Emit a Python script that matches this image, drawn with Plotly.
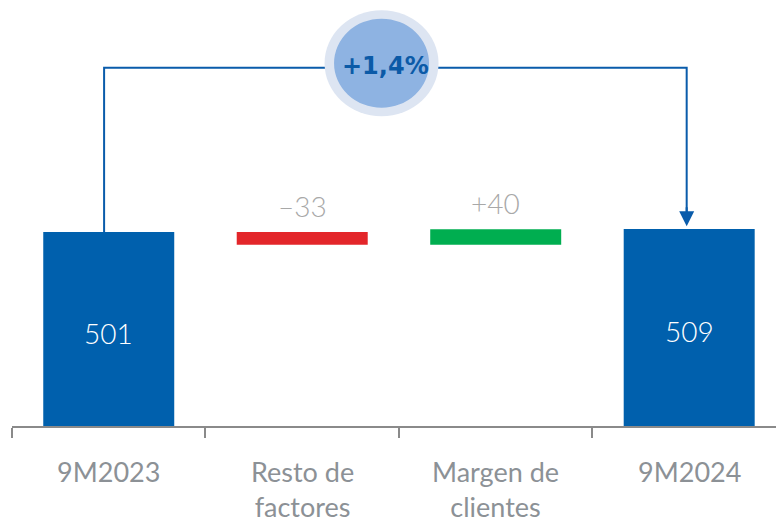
import plotly.graph_objects as go

categories = ["9M2023", "Resto de<br>factores", "Margen de<br>clientes", "9M2024"]
measures = ["absolute", "relative", "relative", "absolute"]
values = [501, -33, 40, 509]
value_labels = ["501", "–33", "+40", "509"]
change_label = "+1,4%"

BLUE = "#0060AD"
RED = "#E3262A"
GREEN = "#00AE50"
GRAY_TXT = "#8C9196"
GRAY_VAL = "#A8A8A8"

# compute bases / heights
bases, heights, colors = [], [], []
running = 0
for m, v in zip(measures, values):
    if m == "absolute":
        bases.append(0)
        heights.append(v)
        colors.append(BLUE)
        running = v
    else:
        if v < 0:
            bases.append(running + v)
            heights.append(-v)
            colors.append(RED)
        else:
            bases.append(running)
            heights.append(v)
            colors.append(GREEN)
        running += v

xs = list(range(len(categories)))

fig = go.Figure()
fig.add_trace(go.Bar(
    x=xs, y=heights, base=bases, width=0.677,
    marker=dict(color=colors, line=dict(width=0)),
    hoverinfo="skip", showlegend=False,
))

LIGHT = dict(family="Lato, 'Open Sans', sans-serif", size=28, weight=300)

annotations = []
for i, (m, b, h, lab) in enumerate(zip(measures, bases, heights, value_labels)):
    if m == "absolute":
        annotations.append(dict(x=i, y=b + h / 2, xref="x", yref="y", text=lab,
                                showarrow=False, yshift=-4,
                                font=dict(LIGHT, color="white")))
    else:
        annotations.append(dict(x=i, y=b + h, xref="x", yref="y", text=lab,
                                showarrow=False, yanchor="bottom", yshift=7,
                                font=dict(LIGHT, color=GRAY_VAL)))

for i, c in enumerate(categories):
    annotations.append(dict(x=i, y=0, xref="x", yref="paper", text=c,
                            showarrow=False, yanchor="top", yshift=-27,
                            font=dict(family="Lato, 'Open Sans', sans-serif",
                                      size=27, color=GRAY_TXT)))

top_y = 925
first, last = values[0], values[-1]
# connector path
shapes = [
    dict(type="path", xref="x", yref="y",
         path=f"M -0.024,{first} L -0.024,{top_y} L 2.987,{top_y} L 2.987,{last + 30}",
         line=dict(color="#0A5CAB", width=2)),
]
# arrow head
annotations.append(dict(x=2.987, y=last + 7, ax=2.987, ay=last + 60,
                        xref="x", yref="y", axref="x", ayref="y",
                        text="", showarrow=True, arrowhead=2, arrowsize=1.5,
                        arrowwidth=2, arrowcolor="#0A5CAB"))

cx, cy = 1.41, 937
shapes.append(dict(type="circle", xref="x", yref="y", xsizemode="pixel",
                   ysizemode="pixel", xanchor=cx, yanchor=cy,
                   x0=-57, x1=57, y0=-53, y1=53,
                   fillcolor="#DDE5F2", line=dict(width=0)))
shapes.append(dict(type="circle", xref="x", yref="y", xsizemode="pixel",
                   ysizemode="pixel", xanchor=cx, yanchor=cy,
                   x0=-47.5, x1=47.5, y0=-44.5, y1=44.5,
                   fillcolor="#8EB3E2", line=dict(width=0)))
annotations.append(dict(x=cx, y=cy, xref="x", yref="y", text=f"<b>{change_label}</b>",
                        showarrow=False, xshift=4, yshift=-3,
                        font=dict(family="'DejaVu Sans', sans-serif", size=24,
                                  color="#0B5AA7")))

fig.update_layout(
    width=776, height=521,
    margin=dict(l=4, r=0, t=0, b=103),
    paper_bgcolor="white", plot_bgcolor="white",
    shapes=shapes, annotations=annotations,
    xaxis=dict(type="linear", range=[-0.5, 3.49], showgrid=False, zeroline=False,
               showline=True, linecolor="#8A8A8A", linewidth=1.5,
               tickmode="array", tickvals=[-0.5, 0.5, 1.5, 2.5],
               ticks="outside", ticklen=10, tickwidth=1.5, tickcolor="#8A8A8A",
               showticklabels=False, fixedrange=True),
    yaxis=dict(range=[0, 1079.5], visible=False, fixedrange=True),
)

fig.write_html("out.html")
